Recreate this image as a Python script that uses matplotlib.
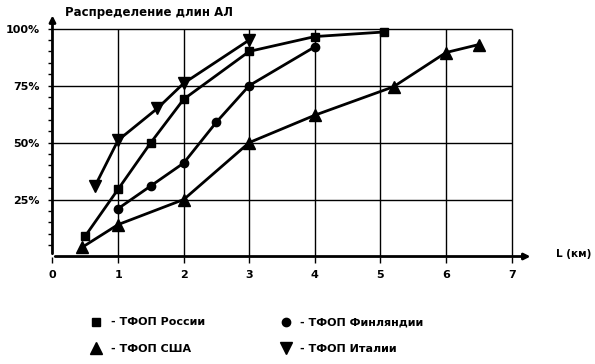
import matplotlib.pyplot as plt
from matplotlib.lines import Line2D

plt.rcParams['font.family'] = ['DejaVu Sans']
plt.rcParams['font.weight'] = 'bold'

# data (L in km, share in %)
russia_x = [0.5, 1.0, 1.5, 2.0, 3.0, 4.0, 5.05]
russia_y = [9, 29.5, 50, 69, 90, 96.5, 98.5]

finland_x = [1.0, 1.5, 2.0, 2.5, 3.0, 4.0]
finland_y = [21, 31, 41, 59, 75, 92]

usa_x = [0.45, 1.0, 2.0, 3.0, 4.0, 5.2, 6.0, 6.5]
usa_y = [4, 14, 25, 50, 62, 74.5, 89.5, 93]

italy_x = [0.65, 1.0, 1.6, 2.0, 3.0]
italy_y = [31, 51, 65, 76, 95]

x_ticks = [0, 1, 2, 3, 4, 5, 6, 7]
y_ticks = [25, 50, 75, 100]
y_labels = ['25%', '50%', '75%', '100%']

labels = ['- ТФОП России', '- ТФОП США', '- ТФОП Финляндии', '- ТФОП Италии']

fig = plt.figure(figsize=(5.95, 3.64), dpi=100)
ax = fig.add_axes([0.0882, 0.2953, 0.8158, 0.670])
ax.set_xlim(0, 7.4)
ax.set_ylim(0, 107)

# grid
ax.vlines(x_ticks[1:], 0, 100, color='k', lw=1.0)
ax.hlines(y_ticks, 0, 7, color='k', lw=1.0)

for s in ax.spines.values():
    s.set_visible(False)

# axes with arrows
ax.annotate('', xy=(7.33, 0), xytext=(0, 0),
            arrowprops=dict(arrowstyle='-|>', color='k', lw=2, mutation_scale=9),
            annotation_clip=False)
ax.annotate('', xy=(0, 107), xytext=(0, 0),
            arrowprops=dict(arrowstyle='-|>', color='k', lw=2, mutation_scale=9),
            annotation_clip=False)

lw = 2.0
ax.plot(russia_x, russia_y, color='k', lw=lw, marker='s', ms=5.5, clip_on=False)
ax.plot(finland_x, finland_y, color='k', lw=lw, marker='o', ms=6, clip_on=False)
ax.plot(usa_x, usa_y, color='k', lw=lw, marker='^', ms=8, clip_on=False)
ax.plot(italy_x, italy_y, color='k', lw=lw, marker='v', ms=8.5, clip_on=False)

ax.set_xticks(x_ticks)
ax.set_xticklabels([str(v) for v in x_ticks], fontsize=8, fontweight='bold')
ax.tick_params(axis='x', length=4, width=1, pad=6)
ax.set_yticks(y_ticks)
ax.set_yticklabels(y_labels, fontsize=8, fontweight='bold')
ax.set_yticks(range(5, 101, 5), minor=True)
ax.tick_params(axis='y', which='both', length=3, width=1, pad=6)

ax.annotate('Распределение длин АЛ', xy=(0, 107), xycoords='data',
            xytext=(9, 0), textcoords='offset points', va='center',
            fontsize=8.5, fontweight='bold', annotation_clip=False)
ax.annotate('L (км)', xy=(7.33, 0), xycoords='data',
            xytext=(16, 2), textcoords='offset points', va='center',
            fontsize=7.5, fontweight='bold', annotation_clip=False)

handles = [
    Line2D([], [], color='k', marker='s', ls='none', ms=5.5),
    Line2D([], [], color='k', marker='^', ls='none', ms=8),
    Line2D([], [], color='k', marker='o', ls='none', ms=6),
    Line2D([], [], color='k', marker='v', ls='none', ms=8.5),
]
fig.legend(handles, labels, ncol=2, loc='upper left',
           bbox_to_anchor=(0.145, 0.14), frameon=False,
           prop={'size': 8, 'weight': 'bold'}, handlelength=1.0,
           handletextpad=0.8, columnspacing=6.8, labelspacing=1.5,
           borderaxespad=0)

fig.savefig('out.png', dpi=100)
